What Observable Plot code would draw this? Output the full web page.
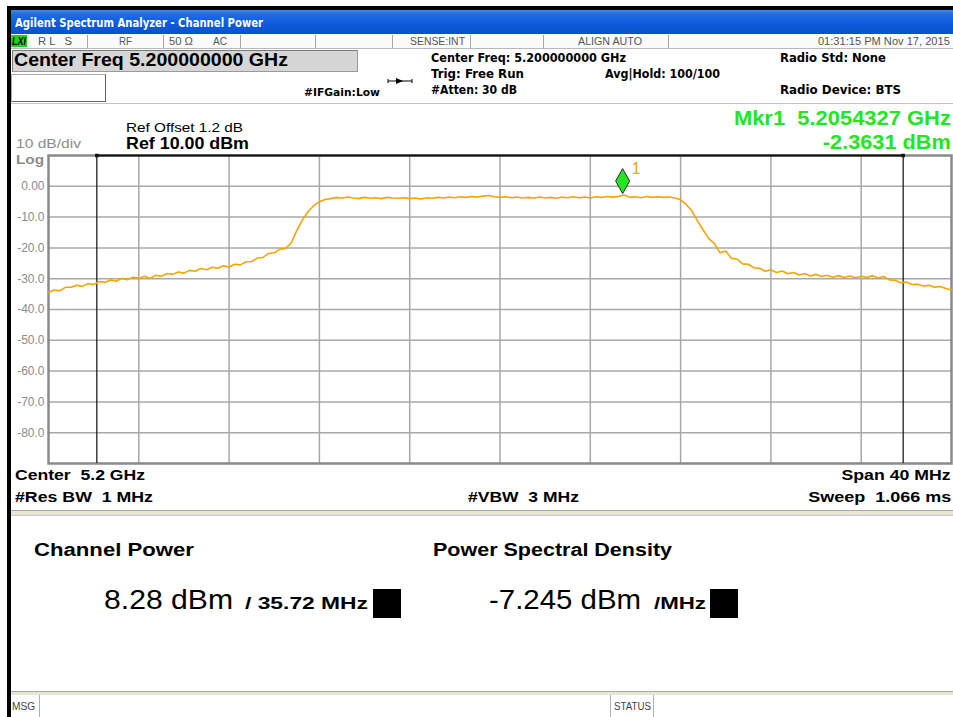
<!DOCTYPE html>
<html><head><meta charset="utf-8">
<script src="https://cdn.jsdelivr.net/npm/d3@7"></script>
<script src="https://cdn.jsdelivr.net/npm/@observablehq/plot@0.6"></script>
<style>
html,body{margin:0;padding:0;background:#fff;}
#root{position:relative;width:953px;height:717px;overflow:hidden;background:#fff;}
.t{position:absolute;white-space:pre;line-height:1;}
.r{position:absolute;box-sizing:border-box;}
#plot{position:absolute;left:0;top:150px;}
</style></head><body><div id="root"></div>
<script>
// ---------- data ----------
const centerGHz = 5.2;
const spanMHz = 40;
const refLevelDbm = 10;
const dbPerDiv = 10;
const channelBwMHz = 35.72;
const markerGHz = 5.2054327;
const markerDbm = -2.3631;

const freqOffsetMHz = [
 -20,-19.75,-19.5,-19.25,-19,-18.75,-18.5,-18.25,-18,-17.75,
 -17.5,-17.25,-17,-16.75,-16.5,-16.25,-16,-15.75,-15.5,-15.25,
 -15,-14.75,-14.5,-14.25,-14,-13.75,-13.5,-13.25,-13,-12.75,
 -12.5,-12.25,-12,-11.75,-11.5,-11.25,-11,-10.75,-10.5,-10.25,
 -10,-9.75,-9.5,-9.25,-9,-8.75,-8.5,-8.25,-8,-7.75,
 -7.5,-7.25,-7,-6.75,-6.5,-6.25,-6,-5.75,-5.5,-5.25,
 -5,-4.75,-4.5,-4.25,-4,-3.75,-3.5,-3.25,-3,-2.75,
 -2.5,-2.25,-2,-1.75,-1.5,-1.25,-1,-0.75,-0.5,-0.25,
 0,0.25,0.5,0.75,1,1.25,1.5,1.75,2,2.25,
 2.5,2.75,3,3.25,3.5,3.75,4,4.25,4.5,4.75,
 5,5.25,5.5,5.75,6,6.25,6.5,6.75,7,7.25,
 7.5,7.75,8,8.25,8.5,8.75,9,9.25,9.5,9.75,
 10,10.25,10.5,10.75,11,11.25,11.5,11.75,12,12.25,
 12.5,12.75,13,13.25,13.5,13.75,14,14.25,14.5,14.75,
 15,15.25,15.5,15.75,16,16.25,16.5,16.75,17,17.25,
 17.5,17.75,18,18.25,18.5,18.75,19,19.25,19.5,19.75,
 20
];
const levelDbm = [
 -34.5,-33.7,-33.9,-32.8,-32.8,-32.1,-32.5,-31.6,-31.9,-30.9,
 -31.2,-30.4,-30.8,-29.9,-30.3,-29.5,-29.9,-29.2,-29.9,-28.9,
 -29.2,-28.3,-28.6,-27.8,-28.2,-27.3,-27.6,-26.7,-27.1,-26.3,
 -26.6,-25.8,-26.2,-25.3,-25.5,-24.5,-24.4,-23.3,-23.1,-21.8,
 -21.6,-20.4,-20.2,-18.4,-14.3,-10.9,-8.2,-6.3,-5.0,-4.3,
 -4.0,-3.6,-3.9,-3.5,-3.8,-4.0,-3.6,-3.9,-3.7,-4.0,
 -3.6,-3.8,-3.9,-3.7,-4.0,-3.8,-4.1,-3.7,-3.9,-3.6,
 -3.8,-3.5,-3.7,-3.4,-3.6,-3.3,-3.5,-3.2,-3.0,-3.4,
 -3.6,-3.4,-3.7,-3.5,-3.8,-3.6,-3.9,-3.5,-3.8,-3.6,
 -3.9,-3.5,-3.7,-3.4,-3.7,-3.5,-3.8,-3.4,-3.6,-3.3,
 -3.5,-3.3,-2.8,-3.6,-3.4,-3.7,-3.3,-3.6,-3.4,-3.6,
 -3.5,-3.8,-4.4,-5.9,-8.0,-11.2,-14.2,-17.0,-18.6,-21.6,
 -21.0,-23.4,-23.6,-25.2,-25.3,-26.5,-26.6,-27.6,-27.1,-28.0,
 -27.5,-28.4,-28.0,-28.8,-28.3,-29.1,-28.6,-29.3,-28.9,-29.5,
 -29.0,-29.6,-29.1,-29.7,-29.2,-29.6,-29.0,-29.8,-29.3,-30.4,
 -30.5,-31.3,-31.1,-31.9,-31.8,-32.4,-32.1,-32.8,-32.5,-33.2,
 -33.7
];
const yTicks = [0,-10,-20,-30,-40,-50,-60,-70,-80];
const yTickLabels = ["0.00","-10.0","-20.0","-30.0","-40.0","-50.0","-60.0","-70.0","-80.0"];
const xGridMHz = [-16,-12,-8,-4,0,4,8,12,16];

// ---------- page frame ----------
const root = document.getElementById("root");
function R(x,y,w,h,style){const d=document.createElement("div");d.className="r";
 Object.assign(d.style,{left:x+"px",top:y+"px",width:w+"px",height:h+"px"},style||{});root.appendChild(d);return d;}
function T(s,o){const el=document.createElement("div");el.className="t";el.textContent=s;
 const fam=o.fam||'"Liberation Sans", Arial, sans-serif';
 el.style.font=(o.i?"italic ":"")+(o.b?"bold ":"")+o.s+"px "+fam;
 el.style.lineHeight="1";el.style.color=o.c||"#000";
 el.style.top=(o.y-0.846*o.s)+"px";
 if(o.a==="end"){el.style.right=(953-o.x)+"px";el.style.transformOrigin="right center";}
 else{el.style.left=o.x+"px";el.style.transformOrigin="left center";}
 root.appendChild(el);
 if(o.w){const w=el.getBoundingClientRect().width;if(w>0)el.style.transform="scaleX("+(o.w/w)+")";}
 return el;}

// window borders + title bar
R(7,6,946,4,{background:"#000"});
R(7,6,4,711,{background:"#000"});
R(11,10,942,24,{background:"linear-gradient(to bottom,#3d8af2 0%,#1f6ce6 18%,#0d5adb 60%,#0a52cc 100%)"});
const DV='"DejaVu Sans", sans-serif';
T("Agilent Spectrum Analyzer - Channel Power",{x:15,y:26.5,s:13,b:true,c:"#fff",fam:DV,w:248});

// status row
R(11,34,942,14,{background:"#fbfbfb"});
R(11,48,942,1,{background:"#b8b8b8"});
[87,163,240,315,392,470,543,668].forEach(x=>R(x,35,1,13,{background:"#a8a8a8"}));
R(11,35,16,12,{background:"#1fd21f"});
T("LXI",{x:12,y:45,s:10,b:true,i:true,c:"#000",w:14});
const sc="#555";
T("R L   S",{x:38,y:45,s:11,c:sc,w:34});
T("RF",{x:119,y:45,s:11,c:sc,w:13});
T("50 Ω",{x:169,y:45,s:11,c:sc,w:24});
T("AC",{x:213,y:45,s:11,c:sc,w:14});
T("SENSE:INT",{x:410,y:45,s:11,c:sc,w:55});
T("ALIGN AUTO",{x:578,y:45,s:11,c:sc,w:64});
T("01:31:15 PM Nov 17, 2015",{x:950,y:45,s:11,c:sc,a:"end",w:132});

// header
R(12,50,346,22,{background:"#d6d6d6",borderTop:"1px solid #7a7a7a",borderLeft:"1px solid #7a7a7a",borderRight:"1px solid #9a9a9a",borderBottom:"1px solid #9a9a9a"});
T("Center Freq 5.200000000 GHz",{x:14,y:66.5,s:18,b:true,w:274});
R(11,74,95,28,{background:"#fff",borderTop:"1px solid #aaa",borderLeft:"1px solid #aaa",borderRight:"1px solid #666",borderBottom:"1px solid #666"});
T("#IFGain:Low",{x:304,y:96,s:11,b:true,fam:DV,w:76});
// trigger arrow glyph
(function(){const d=document.createElement("div");d.className="r";Object.assign(d.style,{left:"387px",top:"73px",width:"26px",height:"12px"});
 d.innerHTML='<svg width="26" height="12"><line x1="1" y1="6" x2="25" y2="6" stroke="#000" stroke-width="1"/><line x1="1" y1="4" x2="1" y2="8" stroke="#000"/><line x1="25" y1="4" x2="25" y2="8" stroke="#000"/><path d="M9,3 L16,6 L9,9 Z" fill="#000"/></svg>';root.appendChild(d);})();
T("Center Freq: 5.200000000 GHz",{x:431,y:62,s:12,b:true,fam:DV,w:195});
T("Trig: Free Run",{x:431,y:78,s:12,b:true,fam:DV,w:93});
T("#Atten: 30 dB",{x:431,y:94,s:12,b:true,fam:DV,w:86});
T("Avg|Hold: 100/100",{x:605,y:78,s:12,b:true,fam:DV,w:115});
T("Radio Std: None",{x:780,y:62,s:12,b:true,fam:DV,w:106});
T("Radio Device: BTS",{x:780,y:94,s:12,b:true,fam:DV,w:121});
R(11,103,942,1,{background:"#c4c4c4"});

const green="#22e622";
T("Mkr1  5.2054327 GHz",{x:951,y:125,s:20,b:true,c:green,a:"end",w:217});
T("-2.3631 dBm",{x:951,y:148.5,s:20,b:true,c:green,a:"end",w:128});
T("Ref Offset 1.2 dB",{x:126,y:131.7,s:13,w:117});
T("Ref 10.00 dBm",{x:126,y:149.3,s:16.5,b:true,w:123});
T("10 dB/div",{x:16,y:148.5,s:12.5,c:"#8c8c8c",w:65});
T("Log",{x:16,y:164,s:13,b:true,c:"#8c8c8c",w:28});

// ---------- plot ----------
const lo = -channelBwMHz/2, hi = channelBwMHz/2;
const mk = (markerGHz - centerGHz)*1000;
const trace = freqOffsetMHz.map((f,i)=>({f, v: levelDbm[i]}));
const tallDiamond = {draw(ctx){ctx.moveTo(0,0);ctx.lineTo(-7,-12.5);ctx.lineTo(0,-25);ctx.lineTo(7,-12.5);ctx.closePath();}};
const traceColor = "#f7a400";
const chart = Plot.plot({
 width:953, height:318, marginLeft:48, marginRight:2, marginTop:5, marginBottom:5,
 style:{background:"transparent", fontFamily:'"Liberation Sans", Arial, sans-serif', fontSize:"12px", overflow:"visible"},
 x:{domain:[-spanMHz/2, spanMHz/2], axis:null},
 y:{domain:[refLevelDbm - 10*dbPerDiv, refLevelDbm], axis:null},
 marks:[
  Plot.gridX(xGridMHz,{stroke:"#a8a8a8",strokeOpacity:1,strokeWidth:1.5}),
  Plot.gridY(yTicks,{stroke:"#a8a8a8",strokeOpacity:1,strokeWidth:1.5}),
  Plot.axisY(yTicks,{tickSize:0,tickPadding:4,fill:"#8c8c8c",fontSize:12,label:null,
    tickFormat:d=>yTickLabels[yTicks.indexOf(d)]}),
  Plot.frame({stroke:"#8a8a8a",strokeWidth:2.5}),
  Plot.ruleX([lo,hi],{stroke:"#111",strokeWidth:1.2}),
  Plot.ruleY([{y:refLevelDbm,a:lo,b:hi}],{y:"y",x1:"a",x2:"b",stroke:"#111",strokeWidth:2}),
  Plot.dot([lo,hi],{x:d=>d,y:()=>refLevelDbm,symbol:"square",r:2,fill:"#111"}),
  Plot.line(trace,{x:"f",y:"v",stroke:traceColor,strokeWidth:1.6}),
  Plot.dot([{f:mk,v:markerDbm}],{x:"f",y:"v",symbol:tallDiamond,fill:green,stroke:"#2a2a2a",strokeWidth:1}),
  Plot.text([{f:mk,v:markerDbm}],{x:"f",y:"v",text:()=>"1",dx:9,dy:-25,fill:traceColor,fontSize:16,textAnchor:"start"})
 ]
});
chart.id="plot";
root.appendChild(chart);

// ---------- footer ----------
T("Center  5.2 GHz",{x:15,y:479.5,s:15,b:true,w:130});
T("#Res BW  1 MHz",{x:15,y:501.5,s:15,b:true,w:138});
T("#VBW  3 MHz",{x:468,y:501.5,s:15,b:true,w:111});
T("Span 40 MHz",{x:951,y:479.5,s:15,b:true,a:"end",w:109});
T("Sweep  1.066 ms",{x:951,y:501.5,s:15,b:true,a:"end",w:143});
R(11,510,942,1,{background:"#a9a9a9"});
R(11,511,942,4,{background:"#e9e6d6"});
R(11,515,942,1,{background:"#c8c8c8"});

T("Channel Power",{x:34,y:556,s:18,b:true,w:160});
T("8.28 dBm",{x:104,y:610,s:28,w:129});
T("/ 35.72 MHz",{x:245,y:609.5,s:17,b:true,w:123});
R(373,589,28,29,{background:"#000"});
T("Power Spectral Density",{x:433,y:556,s:18,b:true,w:239});
T("-7.245 dBm",{x:489,y:610,s:28,w:152});
T("/MHz",{x:654,y:609.5,s:17,b:true,w:52});
R(710,589,28,29,{background:"#000"});

R(11,691,942,1,{background:"#a9a9a9"});
R(11,692,942,3,{background:"#e9e6d6"});
R(39,695,1,22,{background:"#b0b0b0"});
R(610,695,1,22,{background:"#b0b0b0"});
R(653,695,1,22,{background:"#b0b0b0"});
T("MSG",{x:12,y:710,s:10,c:"#444",w:23});
T("STATUS",{x:614,y:710,s:10,c:"#444",w:37});
</script>
</body></html>
